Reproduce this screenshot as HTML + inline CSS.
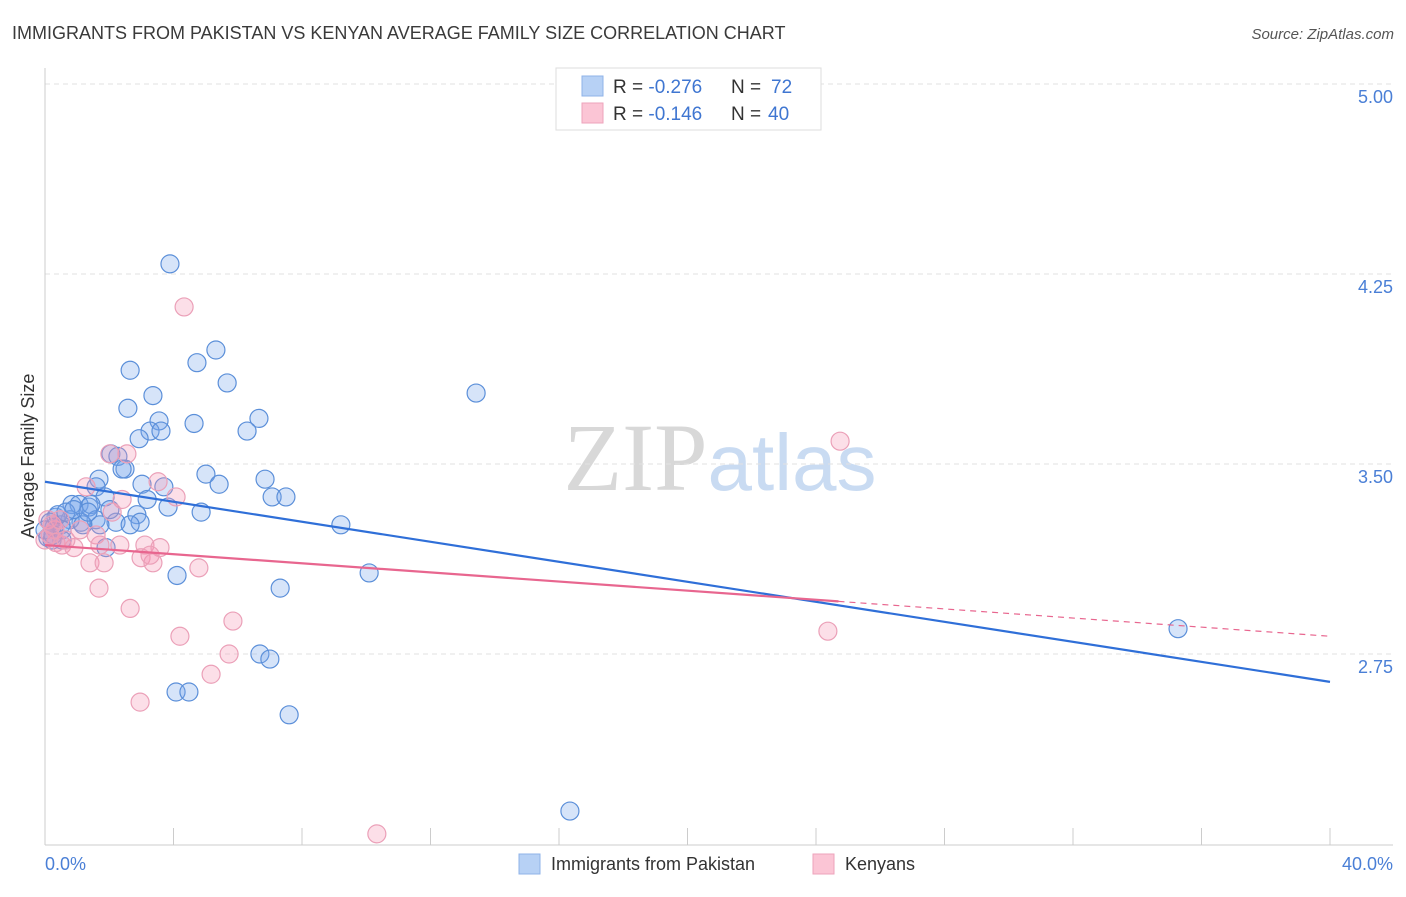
<!DOCTYPE html>
<html><head><meta charset="utf-8"><style>
body{margin:0;background:#fff;font-family:"Liberation Sans",sans-serif;}
svg text{font-family:"Liberation Sans",sans-serif;}
</style></head><body>
<svg id="chart" width="1406" height="892" xmlns="http://www.w3.org/2000/svg">
<text x="12" y="39" font-size="18" fill="#3a3a3a">IMMIGRANTS FROM PAKISTAN VS KENYAN AVERAGE FAMILY SIZE CORRELATION CHART</text>
<text x="1394" y="39" font-size="15" fill="#555" text-anchor="end" font-style="italic">Source: ZipAtlas.com</text>
<text x="720" y="490" font-size="96" text-anchor="middle"><tspan fill="#d8d8d8" font-family="Liberation Serif">ZIP</tspan><tspan fill="#c9dbf2" font-size="80">atlas</tspan></text>
<g id="grid"></g>
<line x1="45" y1="68" x2="45" y2="845" stroke="#ccc"/>
<line x1="45" y1="845" x2="1393" y2="845" stroke="#ccc"/>
<text transform="translate(34,456) rotate(-90)" font-size="18" fill="#333" text-anchor="middle">Average Family Size</text>
<text x="45" y="870" font-size="18" fill="#4a7fd6">0.0%</text>
<text x="1393" y="870" font-size="18" fill="#4a7fd6" text-anchor="end">40.0%</text>
<g id="ticks"></g>
<g id="pts"></g>
<g id="trends"></g>
<g>
<rect x="556" y="68" width="265" height="62" fill="#fff" stroke="#ddd"/>
<rect x="582" y="76" width="21" height="20" fill="#b7d1f5" stroke="#8fb3e8"/>
<rect x="582" y="103" width="21" height="20" fill="#fbc5d5" stroke="#eea3bb"/>
<text x="613" y="93" font-size="19" fill="#333">R = <tspan fill="#3f76d1">-0.276</tspan><tspan x="731">N = </tspan><tspan fill="#3f76d1" x="771">72</tspan></text>
<text x="613" y="120" font-size="19" fill="#333">R = <tspan fill="#3f76d1">-0.146</tspan><tspan x="731">N = </tspan><tspan fill="#3f76d1" x="768">40</tspan></text>
</g>
<g>
<rect x="519" y="854" width="21" height="20" fill="#b7d1f5" stroke="#8fb3e8"/>
<text x="551" y="870" font-size="18" fill="#333">Immigrants from Pakistan</text>
<rect x="813" y="854" width="21" height="20" fill="#fbc5d5" stroke="#eea3bb"/>
<text x="845" y="870" font-size="18" fill="#333">Kenyans</text>
</g>
</svg>
<script>
const yTicks=[5.00,4.25,3.50,2.75];
const yTickLabels=["5.00","4.25","3.50","2.75"];
const xTicks=[0,4,8,12,16,20,24,28,32,36,40];
const blueX=[3.89,2.65,5.32,4.73,5.67,3.36,2.58,13.42,4.64,6.66,3.55,3.27,3.61,6.29,2.93,2.05,2.27,2.49,2.40,1.68,5.01,6.85,3.70,5.42,3.02,1.59,1.87,7.07,7.50,3.18,3.83,0.84,1.06,1.37,1.43,4.86,2.86,1.59,2.21,2.96,2.65,9.21,1.12,0.78,0.34,0.50,0.16,0.28,0.53,0.09,0.22,1.90,4.11,10.09,7.32,6.69,7.00,4.08,4.48,7.60,35.27,16.34,0.40,0.65,1.18,1.71,0.00,0.90,1.34,0.25,0.53,2.02];
const blueY=[4.29,3.87,3.95,3.90,3.82,3.77,3.72,3.78,3.66,3.68,3.67,3.63,3.63,3.63,3.60,3.54,3.53,3.48,3.48,3.44,3.46,3.44,3.41,3.42,3.42,3.41,3.37,3.37,3.37,3.36,3.33,3.34,3.34,3.33,3.34,3.31,3.30,3.28,3.27,3.27,3.26,3.26,3.27,3.28,3.29,3.26,3.27,3.25,3.24,3.21,3.20,3.17,3.06,3.07,3.01,2.75,2.73,2.60,2.60,2.51,2.85,2.13,3.30,3.31,3.26,3.26,3.24,3.32,3.31,3.22,3.20,3.32];
const pinkX=[4.33,24.75,2.02,2.55,3.52,1.28,4.08,2.40,2.09,1.59,2.33,0.34,0.53,0.16,0.90,3.11,3.58,2.99,3.36,1.40,1.84,4.79,1.68,2.65,5.85,4.20,24.37,5.73,5.17,2.96,10.33,0.09,0.31,0.65,1.09,0.22,0.47,3.27,1.71,0.00];
const pinkY=[4.12,3.59,3.54,3.54,3.43,3.41,3.37,3.36,3.31,3.22,3.18,3.19,3.18,3.22,3.17,3.18,3.17,3.13,3.11,3.11,3.11,3.09,3.01,2.93,2.88,2.82,2.84,2.75,2.67,2.56,2.04,3.28,3.24,3.20,3.24,3.26,3.28,3.14,3.18,3.20];
const blueTrend=[3.43,2.64];       // y at x=0 and x=40
const pinkTrend=[3.18,2.82];       // y at x=0 and x=40
const pinkSolidEnd=24.7;
const NS="http://www.w3.org/2000/svg";
const sx=v=>45+v/40*1285;
const sy=v=>84+(5-v)/0.75*190;
function mk(tag,attrs,parent){const e=document.createElementNS(NS,tag);for(const k in attrs)e.setAttribute(k,attrs[k]);document.getElementById(parent).appendChild(e);return e;}
yTicks.forEach((t,i)=>{
  const l=mk('line',{x1:45,x2:1393,y1:sy(t),y2:sy(t),stroke:'#e2e2e2','stroke-dasharray':'5,4'},'grid');
  
  
  const tx=mk('text',{x:1393,y:sy(t)+19,'font-size':18,fill:'#4a7fd6','text-anchor':'end'},'grid');
  tx.textContent=yTickLabels[i];
  
  
});
xTicks.forEach(t=>{
  const l=mk('line',{x1:sx(t),x2:sx(t),y1:828,y2:845,stroke:'#ccc'},'ticks');
  
  
});
blueX.forEach((x,i)=>{
  const c=mk('circle',{cx:sx(x),cy:sy(blueY[i]),r:9,fill:'rgba(120,165,235,0.3)',stroke:'#5b8fd9','stroke-width':1.2},'pts');
  
  
});
pinkX.forEach((x,i)=>{
  const c=mk('circle',{cx:sx(x),cy:sy(pinkY[i]),r:9,fill:'rgba(245,150,180,0.3)',stroke:'#eba0b8','stroke-width':1.2},'pts');
  
  
});
const bl=mk('line',{x1:sx(0),y1:sy(blueTrend[0]),x2:sx(40),y2:sy(blueTrend[1]),stroke:'#2f6fd8','stroke-width':2.2},'trends');


const py=x=>pinkTrend[0]+(pinkTrend[1]-pinkTrend[0])*x/40;
const pl=mk('line',{x1:sx(0),y1:sy(py(0)),x2:sx(pinkSolidEnd),y2:sy(py(pinkSolidEnd)),stroke:'#e8668f','stroke-width':2.2},'trends');


const pd=mk('line',{x1:sx(pinkSolidEnd),y1:sy(py(pinkSolidEnd)),x2:sx(40),y2:sy(py(40)),stroke:'#e8668f','stroke-width':1.2,'stroke-dasharray':'6,5'},'trends');


</script>
</body></html>
